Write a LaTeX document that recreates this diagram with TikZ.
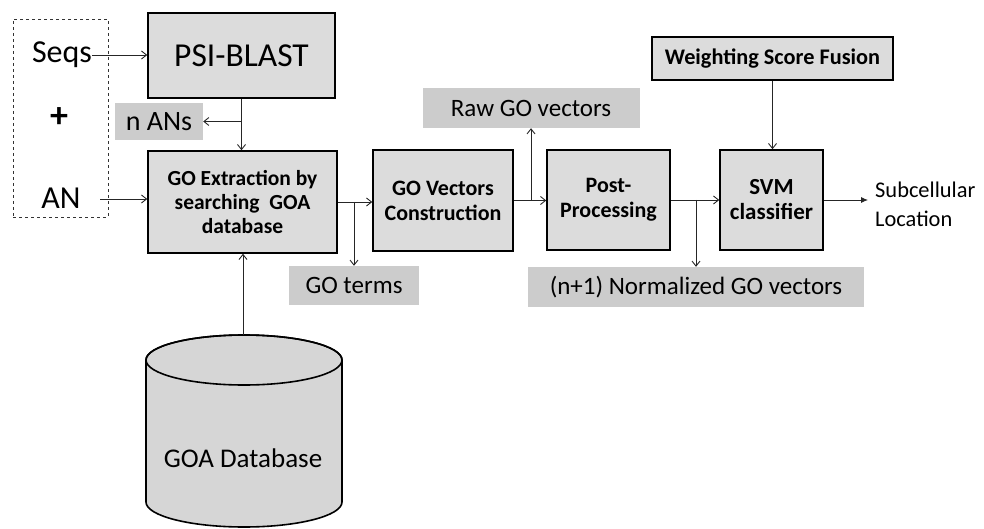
\documentclass[tikz,border=0pt]{standalone}
\usepackage{fontspec}
\setmainfont{Carlito}
\usetikzlibrary{arrows.meta}
\definecolor{boxgray}{RGB}{220,220,220}
\definecolor{taggray}{RGB}{204,204,204}
\definecolor{cylgray}{RGB}{214,214,214}
\begin{document}
\begin{tikzpicture}[x=1pt,y=-1pt,
  box/.style={draw=black, line width=1.6pt, fill=boxgray, align=center, inner sep=0pt},
  tag/.style={fill=taggray, inner sep=0pt, align=center},
  plain/.style={inner sep=0pt, align=center},
  link/.style={draw=black!85, line width=0.9pt, -{Straight Barb[length=5pt,width=8pt]}},
  outlink/.style={draw=black!85, line width=0.9pt, -{Latex[length=7pt,width=6pt]}}
]
\useasboundingbox (0,0) rectangle (984,529);

% input: sequences plus accession numbers
\node[draw=black!80, dashed, line width=0.9pt, minimum width=95pt, minimum height=198pt] (inp) at (60.5,118) {};
\node[plain, font=\fontsize{32}{36}\selectfont] (seqs) at (62,55) {Seqs};
\node[plain, font=\bfseries\fontsize{36}{40}\selectfont] (plus) at (59,118) {+};
\node[plain, font=\fontsize{32}{36}\selectfont] (an) at (61,198) {AN};
\coordinate (anout) at (100,199);

% processing boxes
\node[box, minimum width=187pt, minimum height=85pt, font=\fontsize{33.5}{38}\selectfont] (psi) at (241.5,55.5) {PSI-BLAST};
\node[box, minimum width=189pt, minimum height=102pt, font=\bfseries\fontsize{21.5}{24}\selectfont] (goe) at (242.5,202) {GO Extraction by\\searching~~GOA\\database};
\node[box, minimum width=140pt, minimum height=101pt, font=\bfseries\fontsize{22}{25}\selectfont] (gov) at (443,200.5) {GO Vectors\\Construction};
\node[box, minimum width=123pt, minimum height=100pt, font=\bfseries\fontsize{22}{25}\selectfont] (post) at (608.5,200) {Post-\\Processing};
\node[box, minimum width=103pt, minimum height=100pt, font=\bfseries\fontsize{23}{25}\selectfont] (svm) at (771.5,200) {SVM\\classifier};
\node[box, minimum width=241pt, minimum height=43pt, font=\bfseries\fontsize{22.3}{25}\selectfont] (wsf) at (772.5,58.5) {Weighting Score Fusion};

% intermediate results
\node[tag, minimum width=88pt, minimum height=37pt, font=\fontsize{28}{32}\selectfont] (nans) at (159,121.5) {n ANs};
\node[tag, minimum width=217pt, minimum height=40pt, font=\fontsize{25}{29}\selectfont] (raw) at (531,108) {Raw GO vectors};
\node[tag, minimum width=130pt, minimum height=39pt, font=\fontsize{25}{29}\selectfont] (terms) at (354,285.5) {GO terms};
\node[tag, minimum width=336pt, minimum height=40pt, font=\fontsize{25}{29}\selectfont] (norm) at (696,287) {(n+1) Normalized GO vectors};

% output
\node[plain, anchor=west, align=left, inner xsep=7pt, font=\fontsize{22.4}{29}\selectfont] (out) at (868,204) {Subcellular\\Location};

% GOA database cylinder
\path[fill=cylgray, draw=black, line width=1.6pt]
  (146,360) -- (146,502) arc[start angle=180, end angle=360, x radius=98pt, y radius=25pt]
  -- (342,360) arc[start angle=0, end angle=180, x radius=98pt, y radius=25pt] -- cycle;
\draw[line width=1.6pt] (244,360) ellipse[x radius=98pt, y radius=25pt];
\coordinate (goatop) at (243,335);
\node[plain, font=\fontsize{27}{31}\selectfont] (goa) at (243,458) {GOA Database};

% connectors
\draw[link] (seqs.east) -- (seqs.east -| psi.west);
\draw[link] (anout) -- (anout -| goe.west);
\draw[link] (psi.south) -- (psi.south |- goe.north);
\draw[link] (psi.south |- nans.east) -- (nans.east);
\draw[link] (goatop) -- (goatop |- goe.south);
\draw[link] (goe.east) -- (goe.east -| gov.west);
\draw[link] (goe.east -| terms.north) -- (terms.north);
\draw[link] (gov.east) -- (gov.east -| post.west);
\draw[link] (gov.east -| raw.south) -- (raw.south);
\draw[link] (post.east) -- (post.east -| svm.west);
\draw[link] (post.east -| norm.north) -- (norm.north);
\draw[link] (wsf.south) -- (wsf.south |- svm.north);
\draw[outlink] (svm.east) -- (svm.east -| out.west);
\end{tikzpicture}
\end{document}
